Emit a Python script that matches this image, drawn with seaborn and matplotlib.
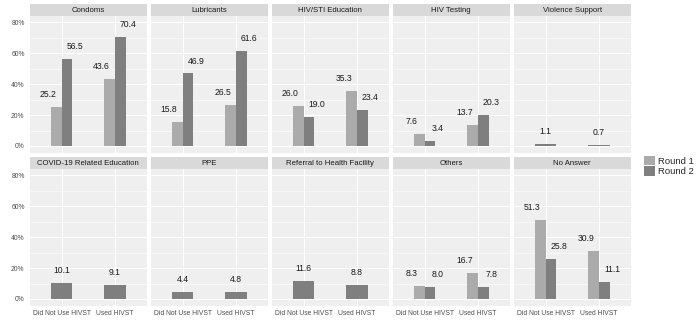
import matplotlib
matplotlib.use("Agg")
import matplotlib.pyplot as plt
import matplotlib.patches as mpatches
from matplotlib.ticker import FuncFormatter, MultipleLocator
import numpy as np
import pandas as pd
import seaborn as sns

facets = ["Condoms", "Lubricants", "HIV/STI Education", "HIV Testing", "Violence Support",
          "COVID-19 Related Education", "PPE", "Referral to Health Facility", "Others", "No Answer"]
groups = ["Did Not Use HIVST", "Used HIVST"]
rounds = ["Round 1", "Round 2"]
# values: [DNU, Used]; NaN = not reported
round1 = [[25.2, 43.6], [15.8, 26.5], [26.0, 35.3], [7.6, 13.7], [np.nan, np.nan],
          [np.nan, np.nan], [np.nan, np.nan], [np.nan, np.nan], [8.3, 16.7], [51.3, 30.9]]
round2 = [[56.5, 70.4], [46.9, 61.6], [19.0, 23.4], [3.4, 20.3], [1.1, 0.7],
          [10.1, 9.1], [4.4, 4.8], [11.6, 8.8], [8.0, 7.8], [25.8, 11.1]]
colors = {"Round 1": "#ABABAB", "Round 2": "#7F7F7F"}

rows = []
for f, r1, r2 in zip(facets, round1, round2):
    for g, a, b in zip(groups, r1, r2):
        rows.append((f, g, "Round 1", a))
        rows.append((f, g, "Round 2", b))
df = pd.DataFrame(rows, columns=["facet", "group", "round", "value"])

sns.set_theme(style="darkgrid")
plt.rcParams["font.family"] = ["Liberation Sans", "DejaVu Sans"]

W, H = 700, 327
fig = plt.figure(figsize=(7, 3.27), dpi=100)
fig.patch.set_facecolor("white")

left0, step, pw = 29.5, 121, 117.5
rows_px = [(3.5, 15.5, 152.5), (156.5, 168.5, 305.5)]
bg = "#EFEFEF"
strip = "#D9D9D9"

for i, f in enumerate(facets):
    r, c = divmod(i, 5)
    st, pt, pb = rows_px[r]
    x0 = left0 + c * step
    ax = fig.add_axes([x0 / W, 1 - pb / H, pw / W, (pb - pt) / H])
    sax = fig.add_axes([x0 / W, 1 - pt / H, pw / W, (pt - st) / H])
    sax.set_facecolor(strip)
    sax.set_xticks([]); sax.set_yticks([])
    for s in sax.spines.values():
        s.set_visible(False)
    sax.text(0.5, 0.45, f, ha="center", va="center", fontsize=5.6, color="#1A1A1A",
             transform=sax.transAxes)

    sub = df[df.facet == f].dropna()
    present = [rd for rd in rounds if rd in set(sub["round"])]
    sns.barplot(data=sub, x="group", y="value", hue="round", order=groups,
                hue_order=present, palette=colors, width=0.4, ax=ax,
                saturation=1, legend=False, errorbar=None, linewidth=0)
    ax.set_facecolor(bg)
    ax.set_xlim(-0.6, 1.6)
    ax.set_ylim(-4.2, 84.3)
    ax.yaxis.set_major_locator(MultipleLocator(20))
    ax.yaxis.set_minor_locator(MultipleLocator(10))
    ax.grid(True, which="major", color="white", linewidth=0.8)
    ax.grid(True, which="minor", axis="y", color="white", linewidth=0.4)
    ax.set_axisbelow(True)
    for s in ax.spines.values():
        s.set_visible(False)
    ax.set_xlabel(""); ax.set_ylabel("")
    ax.tick_params(axis="both", which="major", length=2, width=0.5, color="#333333",
                   labelsize=4.9, labelcolor="#4D4D4D", pad=1.5)
    ax.tick_params(axis="both", which="minor", length=0)
    if c == 0:
        ax.yaxis.set_major_formatter(FuncFormatter(lambda v, p: f"{int(v)}%"))
    else:
        ax.tick_params(axis="y", labelleft=False, length=0)
    if r == 1:
        ax.set_xticks(range(len(groups)))
        ax.set_xticklabels(groups)
    else:
        ax.tick_params(axis="x", labelbottom=False, length=0)

    # value labels
    for gi, g in enumerate(groups):
        for rd in present:
            v = sub[(sub.group == g) & (sub["round"] == rd)]["value"]
            if len(v) == 0:
                continue
            v = float(v.iloc[0])
            if len(present) == 2:
                off = -0.25 if rd == "Round 1" else 0.25
            else:
                off = 0.0
            ax.text(gi + off, v + 8, f"{v:.1f}", ha="center", va="center",
                    fontsize=6.2, color="#1A1A1A")

handles = [mpatches.Patch(facecolor=colors[rd], edgecolor="none", label=rd) for rd in rounds]
fig.legend(handles=handles, loc="center left", bbox_to_anchor=(640 / W, 1 - 166 / H),
           frameon=False, fontsize=6.8, handlelength=1.15, handleheight=1.15,
           handletextpad=0.4, labelspacing=0.1, borderaxespad=0)

fig.savefig("out.png", dpi=100, facecolor="white")
